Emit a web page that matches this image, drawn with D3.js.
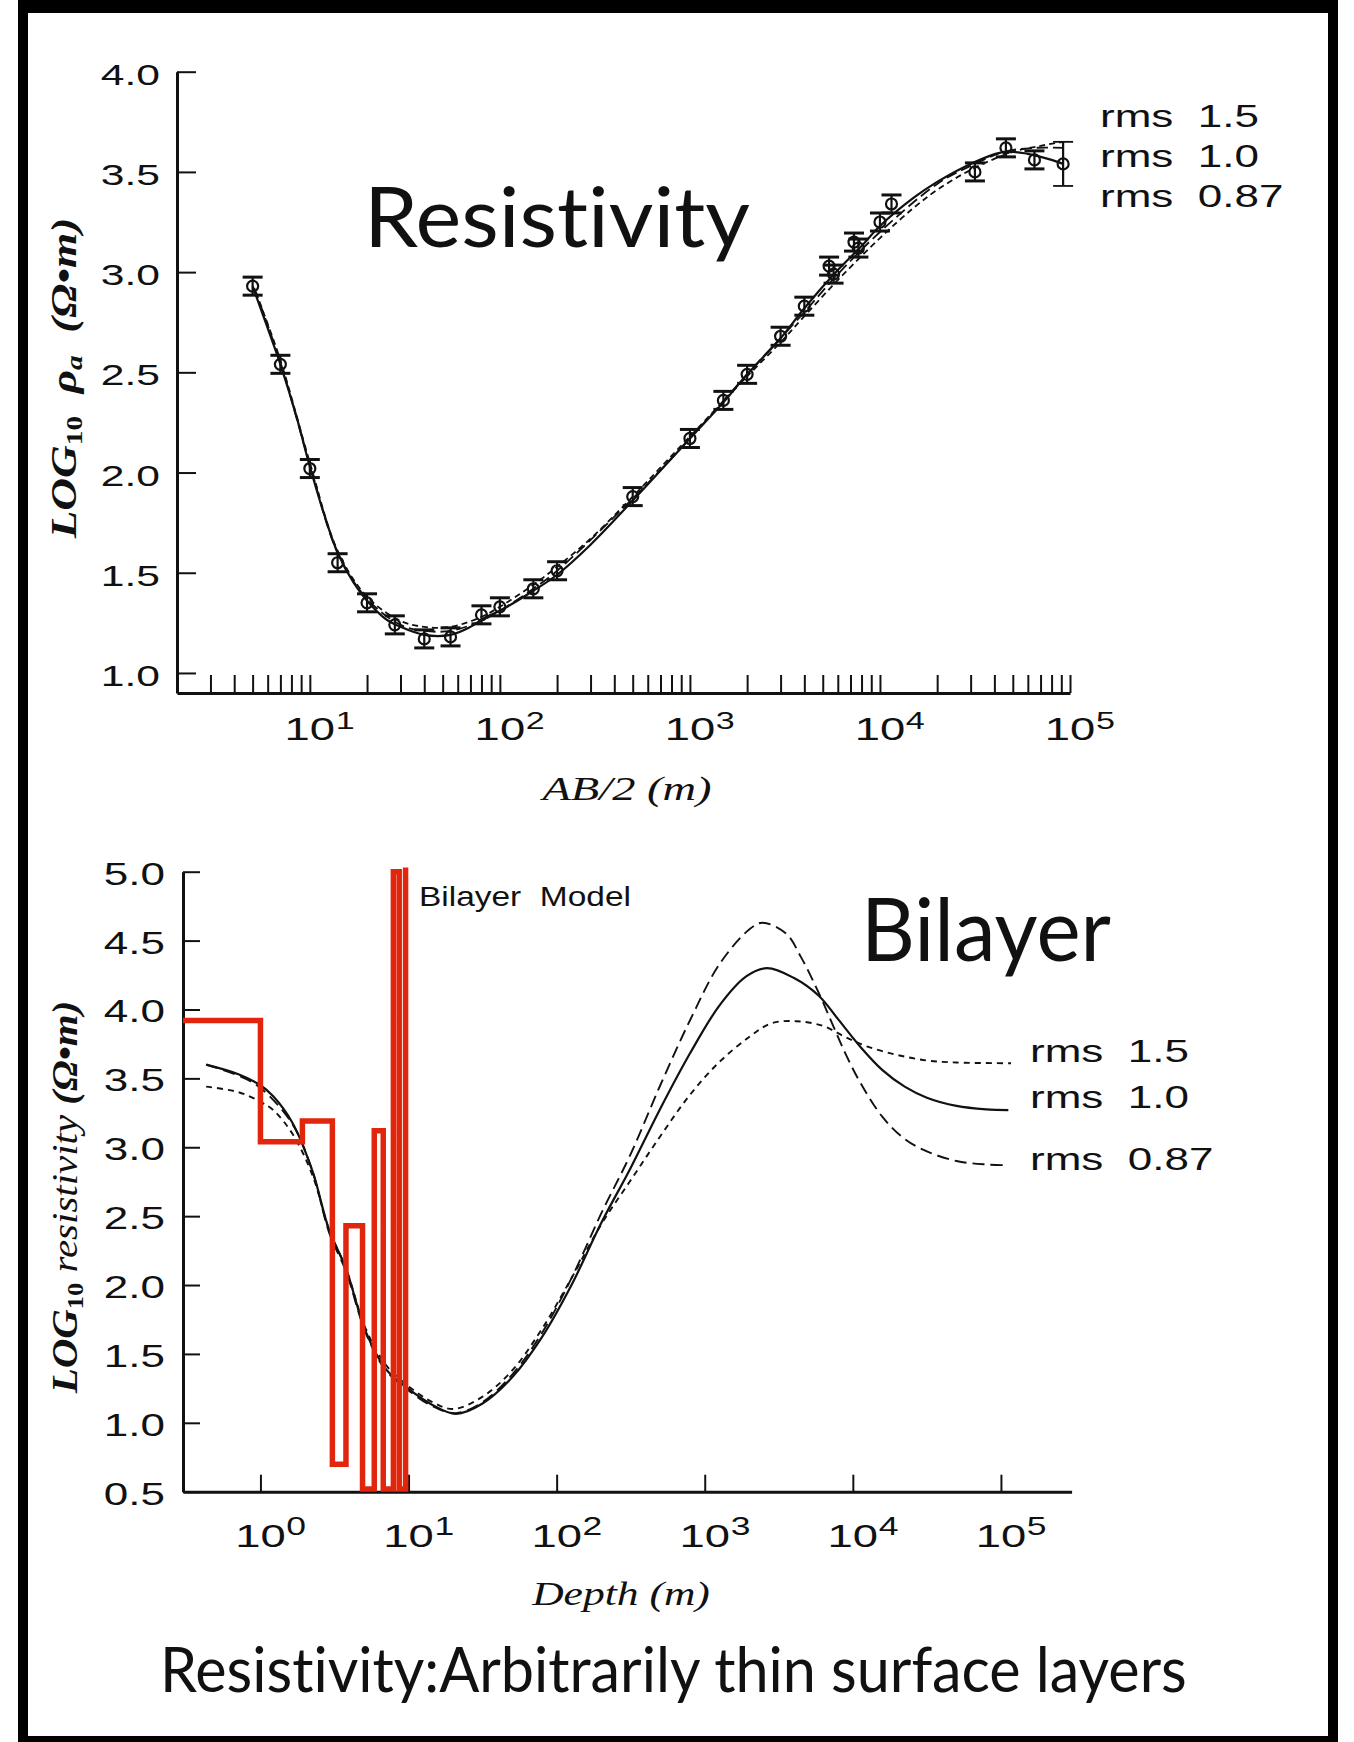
<!DOCTYPE html>
<html><head><meta charset="utf-8">
<script src="https://cdn.jsdelivr.net/npm/d3@7"></script>
<style>
html,body{margin:0;padding:0;background:#fff;}
svg{display:block;}
text{white-space:pre;font-variant-ligatures:none;font-feature-settings:"liga" 0,"clig" 0;}
</style></head>
<body>
<svg id="fig" width="1354" height="1742"></svg>
<script>
// ---------- Schlumberger sounding: apparent resistivity vs AB/2 ----------
const abHalf   = [5, 7, 10, 14, 20, 28, 40, 55, 80, 100, 150, 200, 500, 1000, 1500, 2000, 3000, 4000, 5400, 5700, 7300, 7700, 10000, 11500, 31600, 46000, 65000, 92000];
const logRhoA  = [2.93, 2.54, 2.02, 1.55, 1.35, 1.24, 1.17, 1.18, 1.29, 1.33, 1.42, 1.51, 1.88, 2.17, 2.36, 2.49, 2.68, 2.83, 3.03, 2.99, 3.15, 3.12, 3.25, 3.34, 3.50, 3.62, 3.56, 3.54];
const rhoErr   = [0.045, 0.045, 0.045, 0.045, 0.045, 0.045, 0.045, 0.045, 0.045, 0.045, 0.045, 0.045, 0.045, 0.045, 0.045, 0.045, 0.045, 0.045, 0.045, 0.045, 0.045, 0.045, 0.045, 0.045, 0.045, 0.045, 0.045, 0.11];

// model responses (AB/2, log10 rho_a)
const respX_rms10  = [5, 6, 7, 8.5, 10, 12, 14, 17, 20, 25, 30, 40, 55, 70, 85, 100, 150, 200, 300, 500, 1000, 1500, 2000, 3000, 4000, 6000, 8000, 10000, 15000, 20000, 30000, 45000, 60000, 80000, 92000];
const respY_rms10  = [2.93, 2.72, 2.54, 2.28, 2.03, 1.78, 1.60, 1.45, 1.36, 1.27, 1.23, 1.19, 1.19, 1.23, 1.28, 1.31, 1.41, 1.49, 1.64, 1.86, 2.17, 2.35, 2.49, 2.67, 2.82, 3.01, 3.13, 3.23, 3.37, 3.45, 3.54, 3.60, 3.59, 3.56, 3.54];
const respX_rms15  = [5.2, 7, 10, 14, 20, 30, 40, 55, 80, 100, 150, 200, 300, 500, 1000, 2000, 3000, 4000, 6000, 10000, 15000, 20000, 30000, 50000, 70000, 92000];
const respY_rms15  = [2.90, 2.56, 2.05, 1.61, 1.38, 1.26, 1.23, 1.23, 1.28, 1.33, 1.44, 1.53, 1.67, 1.88, 2.18, 2.48, 2.65, 2.78, 2.96, 3.17, 3.32, 3.41, 3.51, 3.60, 3.63, 3.65];
const respX_rms087 = [5.1, 7, 10, 14, 20, 30, 40, 55, 80, 100, 150, 200, 500, 1000, 2000, 4000, 6000, 10000, 20000, 30000, 45000, 65000, 92000];
const respY_rms087 = [2.92, 2.55, 2.04, 1.60, 1.37, 1.24, 1.21, 1.21, 1.26, 1.31, 1.42, 1.51, 1.87, 2.17, 2.49, 2.80, 2.99, 3.20, 3.44, 3.53, 3.60, 3.62, 3.62];

// ---------- smooth inversions vs depth (m, log10 rho) ----------
const depth_rms10  = [0.43, 0.71, 1.0, 1.22, 1.64, 2.24, 2.91, 3.78, 5.15, 7.03, 9.6, 14.5, 20.9, 31.6, 50.1, 79.4, 126, 200, 316, 501, 794, 1259, 1905, 2630, 3981, 5888, 7943, 11220, 15850, 22390, 31620, 50120, 79430, 112200];
const rho_rms10    = [3.60, 3.53, 3.45, 3.37, 3.18, 2.83, 2.40, 2.12, 1.66, 1.39, 1.26, 1.13, 1.065, 1.14, 1.33, 1.62, 2.00, 2.45, 2.85, 3.28, 3.68, 4.03, 4.24, 4.30, 4.23, 4.10, 3.93, 3.73, 3.56, 3.44, 3.36, 3.30, 3.275, 3.27];
const depth_rms15  = [0.43, 0.71, 1.0, 1.22, 1.64, 2.24, 2.91, 3.78, 5.15, 7.03, 9.6, 14.5, 20, 31.6, 50.1, 79.4, 126, 200, 316, 501, 794, 1259, 1995, 2818, 4169, 6310, 8913, 12590, 19950, 31620, 50120, 117000];
const rho_rms15    = [3.44, 3.40, 3.33, 3.27, 3.10, 2.80, 2.40, 2.12, 1.68, 1.42, 1.28, 1.15, 1.10, 1.19, 1.38, 1.68, 2.05, 2.44, 2.76, 3.08, 3.38, 3.62, 3.80, 3.90, 3.915, 3.88, 3.80, 3.73, 3.67, 3.63, 3.615, 3.61];
const depth_rms087 = [0.43, 0.71, 1.0, 1.64, 2.24, 2.91, 3.78, 5.15, 7.03, 9.6, 14.5, 20.9, 31.6, 50.1, 79.4, 126, 200, 316, 501, 794, 1259, 1995, 2455, 3548, 4467, 5888, 7244, 8913, 11220, 15850, 22390, 31620, 50120, 79430, 112200];
const rho_rms087   = [3.60, 3.52, 3.43, 3.17, 2.83, 2.38, 2.10, 1.65, 1.38, 1.25, 1.12, 1.07, 1.15, 1.35, 1.65, 2.05, 2.52, 2.95, 3.45, 3.92, 4.33, 4.58, 4.63, 4.55, 4.38, 4.12, 3.90, 3.68, 3.47, 3.22, 3.06, 2.97, 2.90, 2.875, 2.87];

// ---------- bilayer step model: top of each layer (m) and log10 rho ----------
const layerTop = [0.3, 1.0, 1.92, 3.06, 3.78, 4.89, 5.87, 6.75, 7.9, 8.65, 9.55];
const layerRho = [3.92, 3.04, 3.19, 0.70, 2.43, 0.52, 3.12, 0.52, 5.0, 0.52, 5.03];

// axis ticks
const topYTicks = [1.0, 1.5, 2.0, 2.5, 3.0, 3.5, 4.0];
const botYTicks = [0.5, 1.0, 1.5, 2.0, 2.5, 3.0, 3.5, 4.0, 4.5, 5.0];
const topDecades = [1, 2, 3, 4, 5];
const botDecades = [0, 1, 2, 3, 4, 5];
const legendLabels = ["rms  1.5", "rms  1.0", "rms  0.87"];

const INK = "#111";
const RED = "#e2260e";
const SANS = "'Liberation Sans', Arial, sans-serif";
const SERIF = "'Liberation Serif', 'Times New Roman', serif";
const TITLE = "Lato, 'Open Sans', sans-serif";
const STRETCH = 1.42;   // figure lettering is set wide

const svg = d3.select("#fig");

// frame
svg.append("rect").attr("x", 18).attr("y", 0).attr("width", 1320).attr("height", 1742).attr("fill", "#000");
svg.append("rect").attr("x", 28).attr("y", 13).attr("width", 1300).attr("height", 1723).attr("fill", "#fff");

// text helper: optional fit to a target length, optional stretch across the glyphs
function fitText(parent, o) {
  const g = parent.append("g")
    .attr("transform", `translate(${o.x},${o.y})` + (o.rotate ? " rotate(-90)" : ""));
  const t = g.append("text")
    .attr("font-family", o.family).attr("font-size", o.size)
    .attr("font-weight", o.weight || "normal").attr("font-style", o.style || "normal")
    .attr("text-anchor", o.anchor || "start").attr("fill", o.fill || INK);
  if (o.build) o.build(t); else t.text(o.text);
  const w = t.node().getBBox().width;
  const sx = o.width ? o.width / w : (o.sx || 1);
  t.attr("transform", `scale(${sx},${o.sy || 1})`);
  return t;
}

const axisStyle = sel => {
  sel.select(".domain").attr("stroke", INK).attr("stroke-width", 3);
  sel.selectAll(".tick line").attr("stroke", INK).attr("stroke-width", 2);
  sel.selectAll(".tick text").remove();
};

function decadeLabel(parent, x, y, e, mainSize, supSize, supRise) {
  const g = parent.append("g").attr("transform", `translate(${x},${y}) scale(${STRETCH},1)`);
  g.append("text").attr("font-family", SANS).attr("font-size", mainSize).attr("text-anchor", "middle")
    .attr("fill", INK).text("10");
  g.append("text").attr("font-family", SANS).attr("font-size", supSize).attr("x", mainSize * 0.57)
    .attr("y", -supRise).attr("fill", INK).text(e);
}

// ================= upper panel =================
const xTop = d3.scaleLog().domain([2, 1e5]).range([177, 1070]);
const yTop = d3.scaleLinear().domain([0.9, 4.0]).range([693, 71.7]);

const topMinor = [];
for (let d = 0; d <= 4; d++) for (let m = 1; m <= 9; m++) {
  const v = m * Math.pow(10, d);
  if (v >= 3 && v <= 1e5) topMinor.push(v);
}
topMinor.push(1e5);

svg.append("g").attr("transform", "translate(0,693)")
  .call(d3.axisBottom(xTop).tickValues(topMinor).tickSize(-18).tickSizeOuter(0).tickFormat(""))
  .call(axisStyle);
svg.append("g").attr("transform", "translate(177,0)")
  .call(d3.axisLeft(yTop).tickValues(topYTicks).tickSize(-19).tickSizeOuter(0).tickFormat(""))
  .call(axisStyle);

topYTicks.forEach(v => fitText(svg, {x: 160, y: yTop(v) + 13, text: d3.format(".1f")(v), anchor: "end",
  family: SANS, size: 30, sx: STRETCH}));
topDecades.forEach(e => decadeLabel(svg, xTop(Math.pow(10, e)), 740, e, 32, 24, 11));

fitText(svg, {x: 627, y: 800, text: "AB/2 (m)", anchor: "middle", family: SERIF, size: 33,
  style: "italic", width: 172});

fitText(svg, {x: 76, y: 378, anchor: "middle", rotate: true, family: SERIF, size: 34,
  weight: "bold", style: "italic", width: 322, sy: 1.05,
  build: t => {
    t.append("tspan").text("LOG");
    t.append("tspan").attr("font-size", 22).attr("font-style", "normal").attr("dy", 6).text("10");
    t.append("tspan").attr("dy", -6).text("  ρ");
    t.append("tspan").attr("font-size", 22).attr("dy", 6).text("a");
    t.append("tspan").attr("dy", -6).text("  (Ω•m)");
  }});

const lineTop = d3.line().x(d => xTop(d[0])).y(d => yTop(d[1])).curve(d3.curveCatmullRom.alpha(0.5));
const topCurves = [
  {x: respX_rms15, y: respY_rms15, dash: "6,4", w: 1.8},
  {x: respX_rms087, y: respY_rms087, dash: "11,5", w: 1.8},
  {x: respX_rms10, y: respY_rms10, dash: null, w: 2.2}
];
topCurves.forEach(c => {
  svg.append("path").attr("d", lineTop(c.x.map((v, i) => [v, c.y[i]])))
    .attr("fill", "none").attr("stroke", INK).attr("stroke-width", c.w)
    .attr("stroke-dasharray", c.dash);
});

// observations with error bars
const obs = svg.append("g").selectAll("g").data(abHalf.map((v, i) => ({x: v, y: logRhoA[i], e: rhoErr[i]})))
  .join("g").attr("transform", d => `translate(${xTop(d.x)},0)`);
obs.append("line").attr("y1", d => yTop(d.y + d.e)).attr("y2", d => yTop(d.y - d.e))
  .attr("stroke", INK).attr("stroke-width", 2.2);
obs.append("line").attr("x1", -10).attr("x2", 10).attr("y1", d => yTop(d.y + d.e)).attr("y2", d => yTop(d.y + d.e))
  .attr("stroke", INK).attr("stroke-width", d => d.e > 0.08 ? 1.8 : 3);
obs.append("line").attr("x1", -10).attr("x2", 10).attr("y1", d => yTop(d.y - d.e)).attr("y2", d => yTop(d.y - d.e))
  .attr("stroke", INK).attr("stroke-width", d => d.e > 0.08 ? 1.8 : 3);
obs.append("circle").attr("cy", d => yTop(d.y)).attr("r", 5.5)
  .attr("fill", "none").attr("stroke", INK).attr("stroke-width", 2.2);

[126.7, 166.5, 206.5].forEach((y, i) => fitText(svg, {x: 1100, y, text: legendLabels[i],
  family: SANS, size: 31, sx: 1.42}));

fitText(svg, {x: 364, y: 246.6, text: "Resistivity", family: TITLE, size: 84, width: 386});

// ================= lower panel =================
const xBot = d3.scaleLog().domain([0.3, 3e5]).range([183, 1071.6]);
const yBot = d3.scaleLinear().domain([0.5, 5.0]).range([1491.7, 871.7]);

svg.append("g").attr("transform", "translate(0,1491.7)")
  .call(d3.axisBottom(xBot).tickValues(botDecades.map(e => Math.pow(10, e))).tickSize(-17).tickSizeOuter(0).tickFormat(""))
  .call(axisStyle);
svg.append("g").attr("transform", "translate(183,0)")
  .call(d3.axisLeft(yBot).tickValues(botYTicks).tickSize(-17).tickSizeOuter(0).tickFormat(""))
  .call(axisStyle);

botYTicks.forEach(v => fitText(svg, {x: 165, y: yBot(v) + 13, text: d3.format(".1f")(v), anchor: "end",
  family: SANS, size: 31, sx: STRETCH}));
botDecades.forEach(e => decadeLabel(svg, xBot(Math.pow(10, e)), 1547, e, 32, 25, 12));

fitText(svg, {x: 621, y: 1605, text: "Depth (m)", anchor: "middle", family: SERIF, size: 33,
  style: "italic", width: 179});

fitText(svg, {x: 77, y: 1197, anchor: "middle", rotate: true, family: SERIF, size: 34,
  style: "italic", width: 394, sy: 1.05,
  build: t => {
    t.append("tspan").attr("font-weight", "bold").text("LOG");
    t.append("tspan").attr("font-size", 22).attr("font-weight", "bold").attr("font-style", "normal").attr("dy", 6).text("10");
    t.append("tspan").attr("dy", -6).text(" resistivity ");
    t.append("tspan").attr("font-weight", "bold").text("(Ω•m)");
  }});

const lineBot = d3.line().x(d => xBot(d[0])).y(d => yBot(d[1])).curve(d3.curveCatmullRom.alpha(0.5));
const botCurves = [
  {x: depth_rms15, y: rho_rms15, dash: "6,5", w: 1.9},
  {x: depth_rms087, y: rho_rms087, dash: "12,6", w: 1.9},
  {x: depth_rms10, y: rho_rms10, dash: null, w: 2.2}
];
botCurves.forEach(c => {
  svg.append("path").attr("d", lineBot(c.x.map((v, i) => [v, c.y[i]])))
    .attr("fill", "none").attr("stroke", INK).attr("stroke-width", c.w)
    .attr("stroke-dasharray", c.dash);
});

// step model outline
const steps = [];
layerTop.forEach((z, i) => {
  if (i > 0) steps.push([z, layerRho[i - 1]]);
  steps.push([z, layerRho[i]]);
});
svg.append("path").attr("d", d3.line().x(d => xBot(d[0])).y(d => yBot(d[1]))(steps))
  .attr("fill", "none").attr("stroke", RED).attr("stroke-width", 5.5).attr("stroke-linejoin", "miter");

fitText(svg, {x: 419, y: 906, text: "Bilayer  Model", family: SANS, size: 27, width: 212});

[1061.7, 1108, 1170].forEach((y, i) => fitText(svg, {x: 1030, y, text: legendLabels[i],
  family: SANS, size: 31, sx: 1.42}));

fitText(svg, {x: 861, y: 961, text: "Bilayer", family: TITLE, size: 88, width: 250});

// caption
fitText(svg, {x: 160, y: 1692, text: "Resistivity:Arbitrarily thin surface layers", family: TITLE, size: 61, width: 1027});
</script>
</body></html>
